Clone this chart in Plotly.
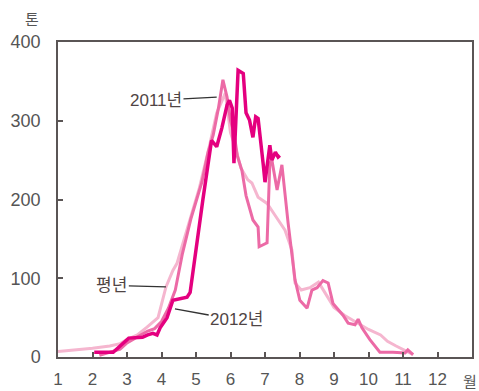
import plotly.graph_objects as go

# Monthly position (1 = Jan 1, 13 = end of Dec) and volume in tonnes
normal_month = [1.0, 1.5, 2.0, 2.5, 2.8, 3.0, 3.3, 3.58, 3.9, 4.13, 4.33, 4.45, 4.74, 5.1, 5.4, 5.6, 5.85,
                6.0, 6.15, 6.3, 6.5, 6.62, 6.8, 7.06, 7.29, 7.58, 7.78, 7.87, 8.05, 8.3, 8.55, 8.75,
                9.0, 9.3, 9.6, 10.0, 10.35, 10.55, 10.8, 11.1, 11.3]
normal_value = [7, 9, 11, 14, 17, 22, 28, 38, 50, 89, 110, 119, 161, 215, 270, 310, 335,
                285, 265, 240, 225, 221, 203, 195, 180, 161, 136, 94, 85, 88, 95, 80,
                63, 53, 45, 35, 28, 20, 14, 8, 3]

y2011_month = [2.2, 2.5, 2.8, 3.0, 3.3, 3.6, 3.8, 4.0, 4.2, 4.4, 4.6, 4.85, 5.17, 5.35, 5.5, 5.65, 5.78,
               5.9, 6.0, 6.1, 6.2, 6.33, 6.45, 6.65, 6.8, 6.83, 7.06, 7.14, 7.2, 7.35, 7.49, 7.67,
               7.87, 8.01, 8.22, 8.36, 8.51, 8.68, 8.83, 8.97, 9.26, 9.41, 9.61, 9.7, 9.81,
               10.04, 10.33, 10.71, 11.06, 11.14, 11.29]
y2011_value = [2, 6, 10, 18, 26, 33, 36, 45, 62, 85, 130, 175, 222, 260, 282, 316, 352,
               330, 300, 285, 255, 237, 205, 174, 165, 140, 145, 246, 250, 212, 244, 170,
               98, 72, 62, 85, 88, 97, 94, 68, 53, 43, 41, 48, 37,
               22, 6, 6, 5, 9, 3]

y2012_month = [2.05, 2.6, 3.05, 3.45, 3.6, 3.75, 3.87, 3.96, 4.16, 4.33, 4.74, 4.83, 5.2, 5.33,
               5.45, 5.6, 5.75, 5.9, 5.97, 6.05, 6.1, 6.22, 6.37, 6.45, 6.55, 6.65, 6.73, 6.8,
               6.9, 6.95, 7.0, 7.14, 7.2, 7.3, 7.38, 7.43]
y2012_value = [6, 6, 24, 25, 28, 30, 28, 37, 50, 72, 76, 82, 200, 237,
               275, 267, 291, 320, 326, 316, 246, 364, 360, 310, 301, 279, 305, 303,
               269, 244, 222, 269, 250, 260, 254, 256]

month_ticks = list(range(1, 13))
value_ticks = [0, 100, 200, 300, 400]

LABEL_FONT = "Liberation Sans, Noto Sans CJK KR, sans-serif"
TEXT_COLOR = "#4f4444"
AXIS_COLOR = "#5a5555"

fig = go.Figure()
fig.add_trace(go.Scatter(x=normal_month, y=normal_value, mode="lines", name="평년",
                         line=dict(color="#f5b6cf", width=3)))
fig.add_trace(go.Scatter(x=y2011_month, y=y2011_value, mode="lines", name="2011년",
                         line=dict(color="#ec6aa6", width=3)))
fig.add_trace(go.Scatter(x=y2012_month, y=y2012_value, mode="lines", name="2012년",
                         line=dict(color="#e4007f", width=3.5)))

axis_common = dict(showline=True, linecolor=AXIS_COLOR, linewidth=1.5, mirror=True,
                   showgrid=False, zeroline=False, ticks="inside", ticklen=5,
                   tickcolor=AXIS_COLOR, tickwidth=1.5, automargin=False)

fig.update_xaxes(range=[1, 13], tickvals=month_ticks, ticklabelstandoff=6,
                 tickfont=dict(family=LABEL_FONT, size=17, color="#555"), **axis_common)
fig.update_yaxes(range=[0, 400], tickvals=value_ticks, ticklabelstandoff=12,
                 tickfont=dict(family=LABEL_FONT, size=18, color="#555"), **axis_common)

annots = [
    dict(text="2011년", x=5.6, y=330, ax=3.84, ay=326),
    dict(text="평년", x=4.13, y=89, ax=2.56, ay=91),
    dict(text="2012년", x=4.39, y=61, ax=6.18, ay=47),
]
for a in annots:
    fig.add_annotation(text=a["text"], x=a["x"], y=a["y"], ax=a["ax"], ay=a["ay"],
                       xref="x", yref="y", axref="x", ayref="y",
                       showarrow=True, arrowhead=0, arrowwidth=1.3, arrowcolor="#333",
                       font=dict(family=LABEL_FONT, size=17, color=TEXT_COLOR))

fig.add_annotation(text="톤", xref="paper", yref="paper", x=-0.063, y=1.073,
                   xanchor="center", yanchor="middle",
                   showarrow=False, font=dict(family=LABEL_FONT, size=15, color="#555"))
fig.add_annotation(text="월", xref="paper", yref="paper", x=0.995, y=-0.079,
                   xanchor="center", yanchor="middle",
                   showarrow=False, font=dict(family=LABEL_FONT, size=15, color="#555"))

fig.update_layout(width=479, height=391, showlegend=False,
                  margin=dict(l=58, r=7, t=42, b=34),
                  paper_bgcolor="white", plot_bgcolor="white")

fig.write_html("out.html")
